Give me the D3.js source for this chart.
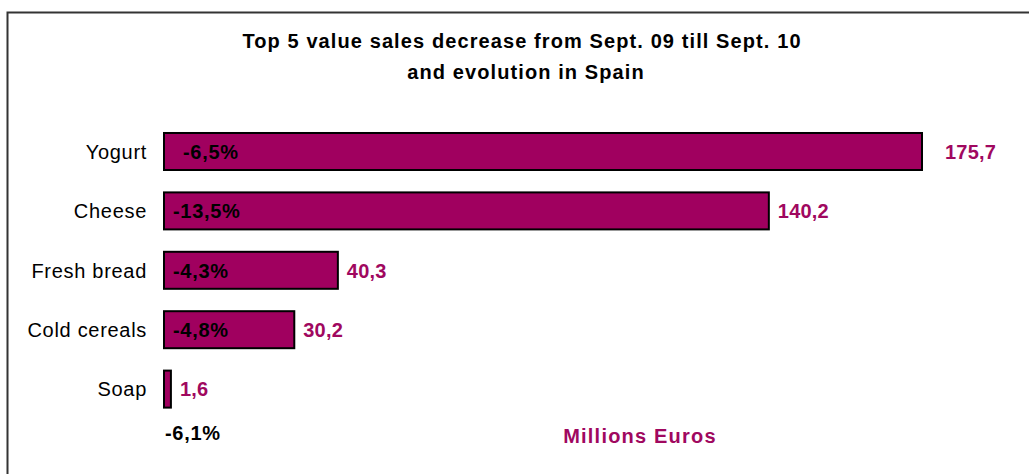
<!DOCTYPE html>
<html>
<head>
<meta charset="utf-8">
<script src="https://cdn.jsdelivr.net/npm/d3@7"></script>
<style>
  html, body { margin: 0; padding: 0; background: #fff; }
  svg { display: block; font-family: "Liberation Sans", Arial, sans-serif; }
</style>
</head>
<body>
<svg id="chart" width="1029" height="474"></svg>
<script>
// Sales data (millions of euros) and year-on-year evolution
const categories = ["Yogurt", "Cheese", "Fresh bread", "Cold cereals", "Soap"];
const salesValues = [175.7, 140.2, 40.3, 30.2, 1.6];
const evolutionLabels = ["-6,5%", "-13,5%", "-4,3%", "-4,8%", "-6,1%"];
const titleLines = ["Top 5 value sales decrease from Sept. 09 till Sept. 10", "and evolution in Spain"];
const unitLabel = "Millions Euros";

const barColor = "#A0005F";
const labelColor = "#A0085F";

const svg = d3.select("#chart");

// frame (top and left edges)
svg.append("path")
  .attr("d", "M7.5,474 V12.5 H1029")
  .attr("fill", "none")
  .attr("stroke", "#333")
  .attr("stroke-width", 2);

// title
const title = svg.append("text")
  .attr("text-anchor", "middle")
  .attr("font-weight", "bold")
  .attr("font-size", 20)
  .attr("letter-spacing", 1.1)
  .attr("fill", "#000");
titleLines.forEach((t, i) => {
  title.append("tspan").attr("x", 522 + i * 4).attr("y", 48 + i * 31).text(t);
});

const x = d3.scaleLinear().domain([0, d3.max(salesValues)]).range([164, 922]);
const y = d3.scaleBand().domain(categories).range([110.6, 430]).paddingInner(0.377).paddingOuter(0.377);

const data = categories.map((c, i) => ({ cat: c, value: salesValues[i], evo: evolutionLabels[i] }));
const maxVal = d3.max(salesValues);

// category axis
const axis = d3.axisLeft(y).tickSize(0).tickPadding(0);
const gAxis = svg.append("g").attr("transform", "translate(147,0)").call(axis);
gAxis.select(".domain").remove();
gAxis.selectAll("text")
  .attr("font-family", "Liberation Sans, Arial, sans-serif")
  .attr("font-size", 20)
  .attr("letter-spacing", 0.7)
  .attr("fill", "#000")
  .attr("dy", "0.36em");

// bars
svg.append("g").selectAll("rect")
  .data(data)
  .join("rect")
  .attr("x", x(0))
  .attr("y", d => y(d.cat))
  .attr("width", d => x(d.value) - x(0))
  .attr("height", y.bandwidth())
  .attr("fill", barColor)
  .attr("stroke", "#000")
  .attr("stroke-width", 2);

// value labels
svg.append("g").selectAll("text")
  .data(data)
  .join("text")
  .attr("x", d => x(d.value) + (d.value === maxVal ? 23 : 9))
  .attr("y", d => y(d.cat) + y.bandwidth() / 2)
  .attr("dy", "0.36em")
  .attr("font-weight", "bold")
  .attr("font-size", 20)
  .attr("letter-spacing", 0.2)
  .attr("fill", labelColor)
  .text(d => d.value.toFixed(1).replace(".", ","));

// evolution labels: inside the bar, or below it when the bar is too narrow
svg.append("g").selectAll("text")
  .data(data)
  .join("text")
  .attr("x", d => {
    const w = x(d.value) - x(0);
    if (w < 60) return x(0) + 1;
    return x(0) + (d.value === maxVal ? 19 : 9);
  })
  .attr("y", d => {
    const w = x(d.value) - x(0);
    const c = y(d.cat) + y.bandwidth() / 2;
    return w < 60 ? y(d.cat) + y.bandwidth() + 25 : c;
  })
  .attr("dy", "0.36em")
  .attr("font-weight", "bold")
  .attr("font-size", 20)
  .attr("letter-spacing", 0.7)
  .attr("fill", "#000")
  .text(d => d.evo);

// unit note
svg.append("text")
  .attr("x", 640)
  .attr("y", 443)
  .attr("text-anchor", "middle")
  .attr("font-weight", "bold")
  .attr("font-size", 20)
  .attr("letter-spacing", 1.2)
  .attr("fill", labelColor)
  .text(unitLabel);
</script>
</body>
</html>
